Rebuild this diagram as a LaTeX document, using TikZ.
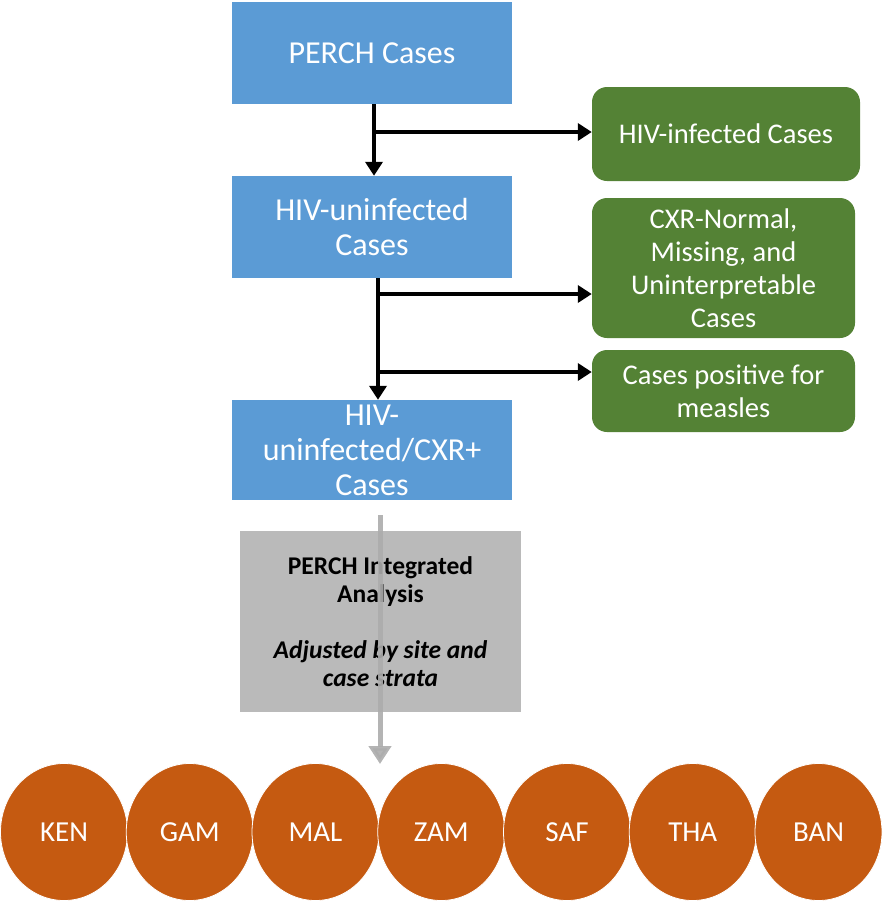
\documentclass[tikz,border=0pt]{standalone}
\usepackage{fontspec}
\setmainfont{Carlito}
\usetikzlibrary{shapes.geometric, arrows.meta, positioning}
\definecolor{perchblue}{HTML}{5B9BD5}
\definecolor{perchgreen}{HTML}{548235}
\definecolor{perchorange}{HTML}{C55A11}
\definecolor{perchgray}{HTML}{BABABA}
\begin{document}
\begin{tikzpicture}[x=1pt, y=-1pt,
    block/.style={rectangle, fill=perchblue, text=white, minimum width=280pt, minimum height=102pt, align=center, font=\fontsize{32}{35}\selectfont},
    excl/.style={rectangle, rounded corners=15pt, fill=perchgreen, text=white, minimum width=263pt, align=center, font=\fontsize{28.5}{33}\selectfont},
    analysis/.style={rectangle, fill=perchgray, minimum width=281pt, minimum height=181pt, align=center, font=\fontsize{25.5}{28}\selectfont},
    site/.style={ellipse, fill=perchorange, draw=white, line width=0.8pt, minimum width=127pt, minimum height=137pt, inner sep=0pt, text=white, font=\fontsize{29}{30}\selectfont},
    arrow/.style={line width=3.5pt, -{Triangle[width=17pt, length=14pt]}},
    grayarrow/.style={draw=gray!65, opacity=0.9, line width=5pt, -{Triangle[width=22pt, length=18pt]}}]
\useasboundingbox (0,0) rectangle (887,903);
\node (perch) [block] at (372,53) {PERCH Cases};
\node (uninf) [block] at (372,227) {HIV-uninfected\\Cases};
\node (cxrpos) [block, minimum height=100pt] at (372,450) {HIV-\\uninfected/CXR+\\Cases};
\node (hivinf) [excl, minimum width=268pt, minimum height=94pt] at (726,134) {HIV-infected Cases};
\node (cxrneg) [excl, minimum height=140pt] at (723.5,268) {CXR-Normal,\\Missing, and\\Uninterpretable\\Cases};
\node (measles) [excl, minimum height=82pt] at (723.5,391) {Cases positive for\\measles};
\node (pia) [analysis] at (380.5,621.5) {\textbf{PERCH Integrated}\\\textbf{Analysis}\\[28pt]\textbf{\itshape Adjusted by site and}\\\textbf{\itshape case strata}};
\foreach \name [count=\i from 0] in {KEN,GAM,MAL,ZAM,SAF,THA,BAN}
    \node (\name) [site] at (64+125.75*\i,832) {\name};
\coordinate (b1) at (374,132);
\coordinate (s2) at (378,278);
\coordinate (b2) at (378,294);
\coordinate (b3) at (378,372);
\coordinate (a1) at (380,515);
\coordinate (a2) at (380,764);
\draw [arrow] (perch.south -| b1) -- (uninf.north -| b1);
\draw [arrow] (b1) -- (b1 -| hivinf.west);
\draw [arrow] (s2) -- (cxrpos.north -| s2);
\draw [arrow] (b2) -- (b2 -| cxrneg.west);
\draw [arrow] (b3) -- (b3 -| measles.west);
\draw [grayarrow] (a1) -- (a2);
\end{tikzpicture}
\end{document}
